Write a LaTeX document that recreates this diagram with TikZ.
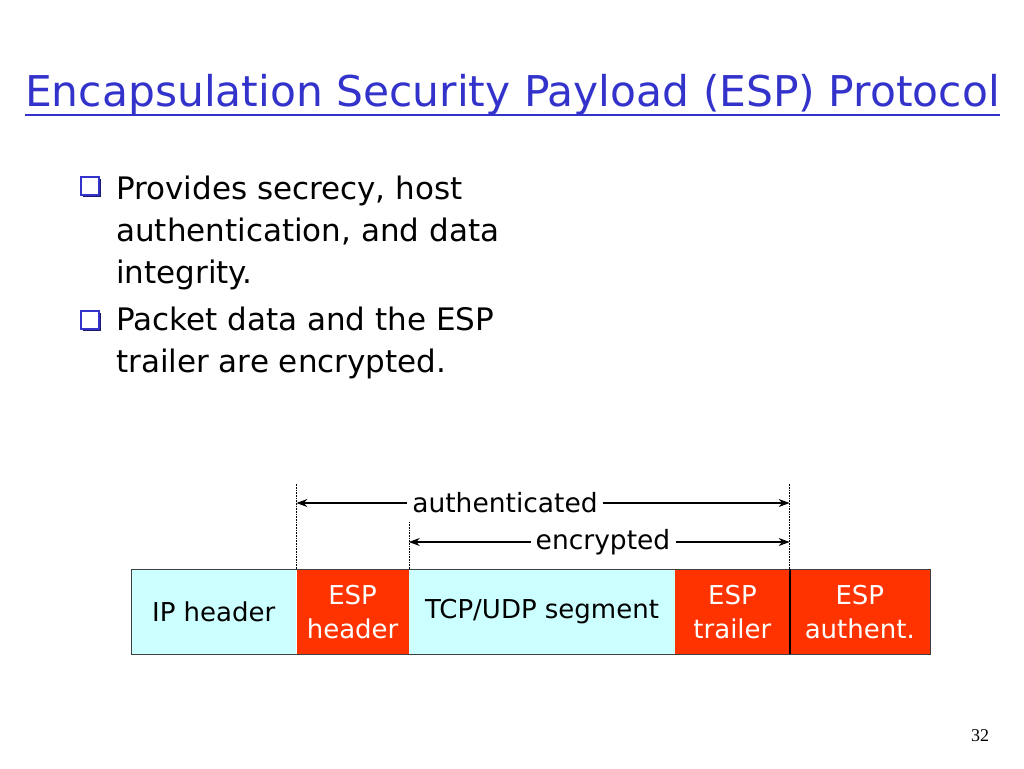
\documentclass[tikz,border=0pt]{standalone}
\usepackage{fontspec}
\setmainfont{DejaVu Sans}
\newfontfamily\numfont{Liberation Serif}
\usetikzlibrary{positioning,arrows.meta,shadows}
\definecolor{titleblue}{HTML}{3333CC}
\definecolor{pktcyan}{HTML}{CCFFFF}
\definecolor{pktred}{HTML}{FF3300}
\definecolor{boxgray}{HTML}{404040}

\begin{document}
\begin{tikzpicture}[x=1pt,y=-1pt,
		field/.style={minimum height=85pt, inner sep=0pt, align=center, font=\fontsize{26}{34}\selectfont},
		plain/.style={field, fill=pktcyan, text=black},
		esp/.style={field, fill=pktred, text=white},
		bullet/.style={draw=titleblue, fill=white, line width=1.6pt, minimum size=18pt, inner sep=0pt,
			drop shadow={shadow xshift=1.8pt, shadow yshift=-1.8pt, fill=titleblue!50!black, opacity=1}},
		body/.style={anchor=base west, inner sep=0pt, align=left, font=\fontsize{31}{42}\selectfont},
		span/.style={-{Stealth[length=11pt,width=8pt]}, line width=1.3pt},
		guide/.style={densely dotted, line width=0.6pt},
		lbl/.style={inner sep=5pt, font=\fontsize{26.5}{30}\selectfont}]
	\useasboundingbox[fill=white] (0,0) rectangle (1024,768);
	% title
	\node (title) [anchor=base west, inner sep=0pt, text=titleblue, font=\fontsize{42.4}{48}\selectfont] at (25,106) {Encapsulation Security Payload (ESP) Protocol};
	\draw [titleblue, line width=2.5pt] ([yshift=-9pt]title.base west) -- ([yshift=-9pt]title.base east);
	% bullets
	\node (b1) [bullet] at (90,186) {};
	\node (p1) [body] at (116,283) {Provides secrecy, host\\authentication, and data\\integrity.};
	\node (b2) [bullet] at (90,320) {};
	\node (p2) [body] at (116,372) {Packet data and the ESP\\trailer are encrypted.};
	% packet
	\node (ip) [plain, minimum width=165pt, anchor=north west] at (131,569) {IP header};
	\node (esph) [esp, minimum width=112pt, right=0pt of ip] {ESP\\header};
	\node (seg) [plain, minimum width=266pt, right=0pt of esph] {TCP/UDP segment};
	\node (espt) [esp, minimum width=114pt, right=0pt of seg] {ESP\\trailer};
	\node (espa) [esp, minimum width=140pt, right=0pt of espt] {ESP\\authent.};
	\draw [boxgray, line width=1pt] (ip.north west) rectangle (espa.south east);
	\draw [black, line width=2pt] (espt.north east) -- (espt.south east);
	% extents
	\draw [guide] (esph.north west) -- ++(0,-86);
	\draw [guide] (seg.north west) -- ++(0,-47);
	\draw [guide] (espt.north east) -- ++(0,-86);
	\node (auth) [lbl] at (505,503) {authenticated};
	\draw [span] (auth.west) -- (auth.west -| esph.west);
	\draw [span] (auth.east) -- (auth.east -| espt.east);
	\node (enc) [lbl] at (603,542) {encrypted};
	\draw [span] (enc.west) -- (enc.west -| seg.west);
	\draw [span] (enc.east) -- (enc.east -| espt.east);
	\node (page) [font=\numfont\fontsize{18}{20}\selectfont] at (980,736) {32};
\end{tikzpicture}
\end{document}
